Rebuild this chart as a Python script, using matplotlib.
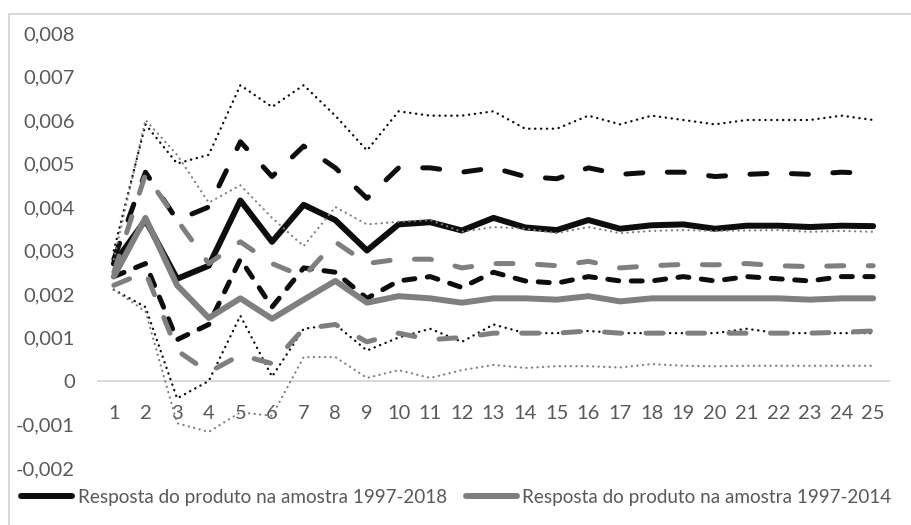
import matplotlib
matplotlib.use('Agg')
import matplotlib.pyplot as plt
from matplotlib.lines import Line2D
from matplotlib.patches import Rectangle

plt.rcParams['font.family'] = ['Lato', 'DejaVu Sans']

periods = list(range(1, 26))

# amostra 1997-2018
resp_2018 = [0.0027, 0.0037, 0.00235, 0.00265, 0.00415, 0.0032, 0.00405, 0.0037, 0.0030, 0.0036,
             0.00365, 0.00346, 0.00375, 0.00353, 0.00347, 0.0037, 0.0035, 0.00358, 0.0036, 0.0035,
             0.00357, 0.00357, 0.00354, 0.00357, 0.00356]
sup1_2018 = [0.0028, 0.0048, 0.0037, 0.0040, 0.0055, 0.0047, 0.0054, 0.0049, 0.0042, 0.0049,
             0.0049, 0.0048, 0.0049, 0.0047, 0.00465, 0.0049, 0.00475, 0.0048, 0.0048, 0.0047,
             0.00475, 0.00478, 0.00475, 0.0048, 0.00477]
inf1_2018 = [0.0024, 0.0027, 0.00095, 0.0013, 0.0028, 0.0017, 0.0026, 0.0025, 0.0019, 0.0023,
             0.0024, 0.00215, 0.0025, 0.0023, 0.00225, 0.0024, 0.0023, 0.0023, 0.0024, 0.0023,
             0.0024, 0.00235, 0.0023, 0.0024, 0.0024]
sup2_2018 = [0.0030, 0.0059, 0.0050, 0.0052, 0.0068, 0.0063, 0.0068, 0.0061, 0.0053, 0.0062,
             0.0061, 0.0061, 0.0062, 0.0058, 0.0058, 0.0061, 0.0059, 0.0061, 0.0060, 0.0059,
             0.0060, 0.0060, 0.0060, 0.0061, 0.0060]
inf2_2018 = [0.0021, 0.0017, -0.0004, 0.0, 0.0015, 0.0001, 0.0012, 0.0013, 0.0007, 0.0010,
             0.0012, 0.0009, 0.0013, 0.0011, 0.0011, 0.00115, 0.0011, 0.0011, 0.0011, 0.0011,
             0.0012, 0.0011, 0.0011, 0.0011, 0.0011]

# amostra 1997-2014
resp_2014 = [0.0024, 0.00375, 0.0022, 0.00145, 0.0019, 0.00143, 0.00187, 0.0023, 0.0018, 0.00195,
             0.0019, 0.0018, 0.0019, 0.0019, 0.00187, 0.00195, 0.00183, 0.0019, 0.0019, 0.0019,
             0.0019, 0.0019, 0.00187, 0.0019, 0.0019]
sup1_2014 = [0.0025, 0.00475, 0.0037, 0.0027, 0.0032, 0.0027, 0.0024, 0.0032, 0.0027, 0.0028,
             0.0028, 0.0026, 0.0027, 0.0027, 0.00265, 0.00275, 0.0026, 0.00265, 0.00268, 0.00267,
             0.0027, 0.00265, 0.00263, 0.00265, 0.00265]
inf1_2014 = [0.0022, 0.0025, 0.0007, 0.0002, 0.0006, 0.0004, 0.0012, 0.0013, 0.0009, 0.0011,
             0.00095, 0.0010, 0.0011, 0.0011, 0.0011, 0.00115, 0.0011, 0.0011, 0.0011, 0.0011,
             0.0011, 0.0011, 0.0011, 0.00112, 0.00115]
sup2_2014 = [0.0028, 0.0060, 0.0052, 0.0041, 0.0045, 0.00375, 0.0031, 0.0040, 0.0036, 0.00366,
             0.0037, 0.00343, 0.00354, 0.0035, 0.0034, 0.00354, 0.0034, 0.00345, 0.00347, 0.00345,
             0.00346, 0.00347, 0.00343, 0.00345, 0.00343]
inf2_2014 = [0.0021, 0.0016, -0.00097, -0.00117, -0.00072, -0.0008, 0.00055, 0.00055, 0.00007, 0.00025,
             0.00007, 0.00025, 0.00037, 0.0003, 0.00034, 0.00034, 0.00031, 0.00039, 0.00035, 0.00034,
             0.00035, 0.00035, 0.00035, 0.00035, 0.00035]

yticks = [-0.002, -0.001, 0, 0.001, 0.002, 0.003, 0.004, 0.005, 0.006, 0.007, 0.008]
ytick_labels = ['-0,002', '-0,001', '0', '0,001', '0,002', '0,003', '0,004',
                '0,005', '0,006', '0,007', '0,008']
labels = ['Resposta do produto na amostra 1997-2018',
          'Resposta do produto na amostra 1997-2014']

black = '#0d0d0d'
gray = '#7f7f7f'
txt = '#595959'

long_dash = (0, (3.4, 4.9))
short_dash = (0, (2.2, 2.5))
dots = (0, (0.1, 2.4))

fig = plt.figure(figsize=(9.12, 5.25), dpi=100)
ax = fig.add_axes([98 / 912, 57 / 525, 791 / 912, 435 / 525])


def draw(y, color, lw, ls):
    ax.plot(periods, y, color=color, lw=lw, linestyle=ls, zorder=3,
            solid_joinstyle='round', solid_capstyle='round',
            dash_capstyle='round', dash_joinstyle='round')


draw(resp_2018, black, 4.3, '-')
draw(sup1_2018, black, 3.6, long_dash)
draw(inf1_2018, black, 3.6, short_dash)
draw(sup2_2018, black, 1.7, dots)
draw(inf2_2018, black, 1.7, dots)
draw(resp_2014, gray, 4.3, '-')
draw(sup1_2014, gray, 3.6, long_dash)
draw(inf1_2014, gray, 3.6, long_dash)
draw(sup2_2014, gray, 1.6, dots)
draw(inf2_2014, gray, 1.6, dots)

ax.set_xlim(0.5, 25.5)
ax.set_ylim(-0.002, 0.008)
ax.set_xticks(periods)
ax.set_yticks(yticks)
ax.set_yticklabels(ytick_labels)
for s in ['top', 'right', 'left']:
    ax.spines[s].set_visible(False)
ax.spines['bottom'].set_position(('data', 0))
ax.spines['bottom'].set_color('#d9d9d9')
ax.spines['bottom'].set_linewidth(1.4)
ax.tick_params(axis='both', length=0, labelsize=14.5, labelcolor=txt)
ax.tick_params(axis='x', pad=17)
ax.tick_params(axis='y', pad=16.5)

handles = [Line2D([], [], color=black, lw=4.3, solid_capstyle='round'),
           Line2D([], [], color=gray, lw=4.3, solid_capstyle='round')]
fig.legend(handles, labels, loc='center left', bbox_to_anchor=(21 / 912, 1 - 497 / 525),
           ncol=2, frameon=False, fontsize=13.6, labelcolor=txt, handlelength=2.7,
           handletextpad=0.3, columnspacing=1.0, borderpad=0, borderaxespad=0)

fig.add_artist(Rectangle((9.5 / 912, -0.1), 1.2, (1 - 13.5 / 525) + 0.1, transform=fig.transFigure,
                         fill=False, ec='#d9d9d9', lw=1.4))

fig.savefig('out.png', dpi=100)
